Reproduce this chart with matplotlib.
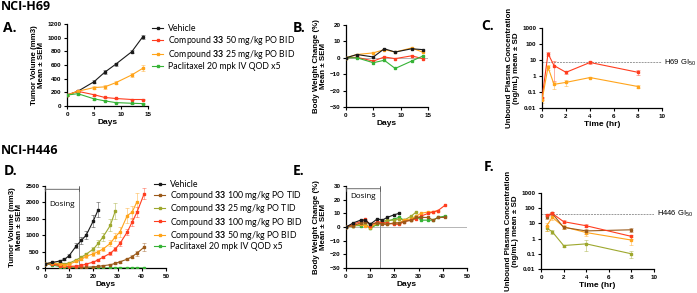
import numpy as np
import matplotlib
matplotlib.use('Agg')
import matplotlib.pyplot as plt
from matplotlib.lines import Line2D

plt.rcParams['font.family'] = ['Liberation Sans', 'DejaVu Sans']
plt.rcParams['mathtext.fontset'] = 'custom'
plt.rcParams['mathtext.rm'] = 'Liberation Sans'
plt.rcParams['mathtext.bf'] = 'Lato:bold'

W, H = 697, 293

BLACK = '#1a1a1a'
RED = '#ff3d1f'
ORANGE = '#ffa41b'
GREEN = '#36b336'
BROWN = '#9b5a1a'
OLIVE = '#9ea82e'

# ---- NCI-H69 ----
days_a = [0, 2, 5, 7, 9, 12, 14]
vol_a_vehicle = [160, 215, 355, 495, 610, 795, 1010]
vol_a_c50 = [160, 215, 165, 125, 110, 95, 95]
vol_a_c25 = [160, 215, 270, 280, 340, 455, 550]
vol_a_pac = [160, 180, 105, 75, 50, 40, 35]
sem_a_vehicle = [15, 15, 20, 30, 25, 25, 35]
sem_a_c50 = [15, 15, 15, 12, 10, 10, 10]
sem_a_c25 = [15, 15, 20, 25, 25, 35, 45]
sem_a_pac = [15, 12, 10, 8, 6, 5, 5]

bw_b_vehicle = [0, 2, 0.5, 5.5, 3.5, 5.5, 5]
bw_b_c50 = [0, 0.3, -2, 0.5, -0.5, 1.2, -0.5]
bw_b_c25 = [0, 2, 3, 5, 3.5, 6, 3.5]
bw_b_pac = [0, 0, -3, -1.5, -6.5, -2, 1]

time_c = [0, 0.5, 1, 2, 4, 8]
conc_c_c50 = [0.04, 25, 4.5, 1.7, 7, 1.7]
conc_c_c25 = [0.03, 3.5, 0.3, 0.4, 0.8, 0.22]
sd_c_c50 = [0.01, 8, 4, 0.4, 1.5, 0.6]
sd_c_c25 = [0.01, 1.2, 0.15, 0.15, 0.1, 0.05]
gi50_h69 = 7

# ---- NCI-H446 ----
days_veh = [0, 3, 6, 8, 10, 13, 15, 17, 20, 22]
days_olive = [0, 3, 6, 8, 10, 13, 15, 17, 20, 22, 24, 27, 29]
days_orange = [0, 3, 6, 8, 10, 13, 15, 17, 20, 22, 24, 27, 29, 31, 34, 36, 38]
days_long = [0, 3, 6, 8, 10, 13, 15, 17, 20, 22, 24, 27, 29, 31, 34, 36, 38, 41]

vol_d_vehicle = [130, 170, 210, 260, 380, 680, 840, 1000, 1440, 1780]
vol_d_c100tid = [130, 140, 90, 60, 40, 25, 20, 25, 35, 50, 70, 100, 140, 190, 270, 350, 450, 640]
vol_d_c25tid = [130, 150, 140, 130, 150, 250, 330, 420, 580, 750, 950, 1300, 1730]
vol_d_c100bid = [130, 120, 70, 50, 50, 60, 80, 120, 180, 250, 330, 450, 580, 750, 1100, 1400, 1700, 2270]
vol_d_c50bid = [130, 150, 120, 100, 120, 200, 270, 360, 430, 500, 580, 750, 950, 1100, 1600, 1700, 2020]
vol_d_pac = [130, 90, 45, 20, 10, 5, 3, 2, 2, 2, 2, 2, 2, 2, 2, 2, 2, 2]
sem_d_vehicle = [15, 20, 25, 30, 40, 80, 120, 130, 180, 230]
sem_d_c100tid = [15, 15, 12, 10, 8, 5, 5, 5, 8, 10, 12, 15, 20, 30, 40, 60, 80, 130]
sem_d_c25tid = [15, 15, 15, 15, 20, 30, 40, 50, 70, 100, 120, 180, 250]
sem_d_c100bid = [15, 15, 10, 8, 8, 10, 12, 15, 20, 30, 35, 45, 60, 70, 100, 130, 150, 170]
sem_d_c50bid = [15, 15, 15, 12, 15, 25, 30, 40, 50, 60, 70, 90, 120, 150, 220, 200, 280]

bw_e_vehicle = [0, 3, 5, 5, 2, 6, 5, 7, 9, 10]
bw_e_c100tid = [0, 1, 3, 4, 2, 3, 2, 2, 3, 3, 4, 5, 7, 7, 7, 5, 7, 7]
bw_e_c25tid = [0, 1, 2, 2, -1, 3, 4, 5, 5, 6, 5, 8, 11]
bw_e_c100bid = [0, 2, 4, 6, 1, 4, 3, 3, 2, 2, 4, 5, 6, 8, 10, 11, 12, 16]
bw_e_c50bid = [0, 1, 2, 1, 0, 3, 3, 2, 3, 3, 5, 6, 8, 10, 11, 11, 12]
bw_e_pac = [0, 1, 1, 2, -1, 2, 3, 4, 6, 7, 5, 5, 8, 5, 5, 5, 7, 8]

time_f = [0.5, 1, 2, 4, 8]
conc_f_c100bid = [35, 45, 13, 7, 1.4]
conc_f_c100tid = [28, 45, 5.5, 3.2, 3.8]
conc_f_c50bid = [7, 25, 6, 2.5, 0.8]
conc_f_c25tid = [5, 2.8, 0.35, 0.45, 0.1]
sd_f_c100bid = [5, 8, 3, 1.5, 0.4]
sd_f_c100tid = [8, 10, 1.5, 1.2, 1.2]
sd_f_c50bid = [4, 8, 2, 1, 0.4]
sd_f_c25tid = [2, 0.8, 0.05, 0.3, 0.05]
gi50_h446 = 40

labels_a = ['Vehicle',
            r'Compound $\mathbf{33}$ 50 mg/kg PO BID',
            r'Compound $\mathbf{33}$ 25 mg/kg PO BID',
            'Paclitaxel 20 mpk IV QOD x5']
labels_d = ['Vehicle',
            r'Compound $\mathbf{33}$ 100 mg/kg PO TID',
            r'Compound $\mathbf{33}$ 25 mg/kg PO TID',
            r'Compound $\mathbf{33}$ 100 mg/kg PO BID',
            r'Compound $\mathbf{33}$ 50 mg/kg PO BID',
            'Paclitaxel 20 mpk IV QOD x5']

MS = 1.6
LW = 0.8


def px_axes(fig, x0, y0, x1, y1):
    return fig.add_axes([x0 / W, 1 - y1 / H, (x1 - x0) / W, (y1 - y0) / H])


def style(ax):
    for s in ['top', 'right']:
        ax.spines[s].set_visible(False)
    for s in ['left', 'bottom']:
        ax.spines[s].set_linewidth(0.9)
    ax.tick_params(labelsize=4.5, width=0.8, length=2.5, pad=1.5)
    for t in ax.get_xticklabels() + ax.get_yticklabels():
        t.set_fontweight('bold')


def series(ax, x, y, err, color):
    ax.plot(x, y, color=color, lw=LW, marker='s', ms=MS, zorder=3)
    if err is not None:
        ax.errorbar(x, y, yerr=err, fmt='none', ecolor=color, elinewidth=0.5,
                    capsize=1.3, capthick=0.5, alpha=0.6, zorder=2)


def ylab(ax, text, pad=2):
    ax.set_ylabel(text, fontsize=5.7, fontweight='bold', labelpad=pad, linespacing=1.0)


def dosing(ax, top, ytxt):
    ax.axvline(14, color='#777777', lw=0.6, zorder=1)
    ax.annotate('', xy=(0, top), xytext=(14, top),
                arrowprops=dict(arrowstyle='|-|', color='#555555', lw=0.6,
                                mutation_scale=1.5, shrinkA=0, shrinkB=0))
    ax.text(7, ytxt, 'Dosing', ha='center', va='center', fontsize=5.8,
            family='Open Sans')


def legend(ax, labels, colors, x, y, spacing):
    handles = [Line2D([], [], color=c, lw=LW, marker='s', ms=MS) for c in colors]
    ax.legend(handles, labels, loc='upper left', bbox_to_anchor=(x / W, 1 - y / H),
              bbox_transform=fig.transFigure, frameon=False, borderpad=0,
              borderaxespad=0, handlelength=1.3, handletextpad=0.5,
              labelspacing=spacing, prop={'family': 'Lato', 'size': 6.3})


fig = plt.figure(figsize=(W / 100, H / 100), dpi=100)

fig.text(1 / W, 1 - 7 / H, 'NCI-H69', fontsize=9, fontweight='bold', va='center',
         family='Open Sans')
fig.text(1 / W, 1 - 150 / H, 'NCI-H446', fontsize=9, fontweight='bold', va='center',
         family='Open Sans')
for lab, x, y in [('A.', 3, 28), ('B.', 293, 28), ('C.', 481, 26),
                  ('D.', 4, 171), ('E.', 293, 171), ('F.', 484, 167)]:
    fig.text(x / W, 1 - y / H, lab, fontsize=10, fontweight='bold', va='center',
             family='Open Sans')

# A
ax = px_axes(fig, 67, 24, 148, 106)
series(ax, days_a, vol_a_vehicle, sem_a_vehicle, BLACK)
series(ax, days_a, vol_a_c50, sem_a_c50, RED)
series(ax, days_a, vol_a_c25, sem_a_c25, ORANGE)
series(ax, days_a, vol_a_pac, sem_a_pac, GREEN)
ax.set_xlim(0, 15)
ax.set_ylim(0, 1200)
ax.set_xticks([0, 5, 10, 15])
ax.set_yticks(np.arange(0, 1201, 200))
ax.set_xlabel('Days', fontsize=6, fontweight='bold', labelpad=2)
ylab(ax, 'Tumor Volume (mm3)\nMean ± SEM')
style(ax)
legend(ax, labels_a, [BLACK, RED, ORANGE, GREEN], 152, 24, 0.1)

# B
ax = px_axes(fig, 346, 25, 428, 107)
ax.axhline(0, color='#aaaaaa', lw=0.6, zorder=1)
series(ax, days_a, bw_b_c25, None, ORANGE)
series(ax, days_a, bw_b_c50, None, RED)
series(ax, days_a, bw_b_pac, None, GREEN)
series(ax, days_a, bw_b_vehicle, None, BLACK)
ax.set_xlim(0, 15)
ax.set_ylim(-30, 20)
ax.set_xticks([0, 5, 10, 15])
ax.set_yticks(np.arange(-30, 21, 10))
ax.set_xlabel('Days', fontsize=6, fontweight='bold', labelpad=2)
ylab(ax, 'Body Weight Change (%)\nMean ± SEM')
style(ax)

# C
ax = px_axes(fig, 542, 28, 662, 108)
ax.set_yscale('log')
ax.axhline(gi50_h69, color='#999999', lw=0.7, ls=(0, (2, 1)), zorder=1)
series(ax, time_c, conc_c_c50, sd_c_c50, RED)
series(ax, time_c, conc_c_c25, sd_c_c25, ORANGE)
ax.set_xlim(0, 10)
ax.set_ylim(0.01, 1000)
ax.set_xticks([0, 2, 4, 6, 8, 10])
ax.set_yticks([0.01, 0.1, 1, 10, 100, 1000])
ax.set_yticklabels(['0.01', '0.1', '1', '10', '100', '1000'])
ax.minorticks_off()
ax.set_xlabel('Time (hr)', fontsize=6, fontweight='bold', labelpad=2)
ylab(ax, 'Unbound Plasma Concentration\n(ng/mL) mean ± SD')
ax.text(1.02, gi50_h69, 'H69 GI$_{50}$', transform=ax.get_yaxis_transform(),
        fontsize=5.5, va='center', ha='left')
style(ax)

# D
ax = px_axes(fig, 45, 186, 166, 268)
series(ax, days_long, vol_d_pac, None, GREEN)
series(ax, days_long, vol_d_c100tid, sem_d_c100tid, BROWN)
series(ax, days_olive, vol_d_c25tid, sem_d_c25tid, OLIVE)
series(ax, days_long, vol_d_c100bid, sem_d_c100bid, RED)
series(ax, days_orange, vol_d_c50bid, sem_d_c50bid, ORANGE)
series(ax, days_veh, vol_d_vehicle, sem_d_vehicle, BLACK)
dosing(ax, 2400, 1950)
ax.set_xlim(0, 50)
ax.set_ylim(0, 2500)
ax.set_xticks(np.arange(0, 51, 10))
ax.set_yticks(np.arange(0, 2501, 500))
ax.set_xlabel('Days', fontsize=6, fontweight='bold', labelpad=2)
ylab(ax, 'Tumor Volume (mm3)\nMean ± SEM')
style(ax)
legend(ax, labels_d, [BLACK, BROWN, OLIVE, RED, ORANGE, GREEN], 154, 180, 0.02)

# E
ax = px_axes(fig, 346, 186, 467, 268)
ax.axhline(0, color='#aaaaaa', lw=0.6, zorder=1)
series(ax, days_long, bw_e_pac, None, GREEN)
series(ax, days_olive, bw_e_c25tid, None, OLIVE)
series(ax, days_orange, bw_e_c50bid, None, ORANGE)
series(ax, days_long, bw_e_c100bid, None, RED)
series(ax, days_long, bw_e_c100tid, None, BROWN)
series(ax, days_veh, bw_e_vehicle, None, BLACK)
dosing(ax, 28, 22)
ax.set_xlim(0, 50)
ax.set_ylim(-30, 30)
ax.set_xticks(np.arange(0, 51, 10))
ax.set_yticks(np.arange(-30, 31, 10))
ax.set_xlabel('Days', fontsize=6, fontweight='bold', labelpad=2)
ylab(ax, 'Body Weight Change (%)\nMean ± SEM')
style(ax)

# F
ax = px_axes(fig, 541, 193, 654, 269)
ax.set_yscale('log')
ax.axhline(gi50_h446, color='#999999', lw=0.7, ls=(0, (2, 1)), zorder=1)
series(ax, time_f, conc_f_c25tid, sd_f_c25tid, OLIVE)
series(ax, time_f, conc_f_c50bid, sd_f_c50bid, ORANGE)
series(ax, time_f, conc_f_c100tid, sd_f_c100tid, BROWN)
series(ax, time_f, conc_f_c100bid, sd_f_c100bid, RED)
ax.set_xlim(0, 10)
ax.set_ylim(0.01, 1000)
ax.set_xticks([0, 2, 4, 6, 8, 10])
ax.set_yticks([0.01, 0.1, 1, 10, 100, 1000])
ax.set_yticklabels(['0.01', '0.1', '1', '10', '100', '1000'])
ax.minorticks_off()
ax.set_xlabel('Time (hr)', fontsize=6, fontweight='bold', labelpad=2)
ylab(ax, 'Unbound Plasma Concentration\n(ng/mL) mean ± SD')
ax.text(1.03, gi50_h446, 'H446 GI$_{50}$', transform=ax.get_yaxis_transform(),
        fontsize=5.5, va='center', ha='left')
style(ax)

fig.savefig('out.png', dpi=100)
